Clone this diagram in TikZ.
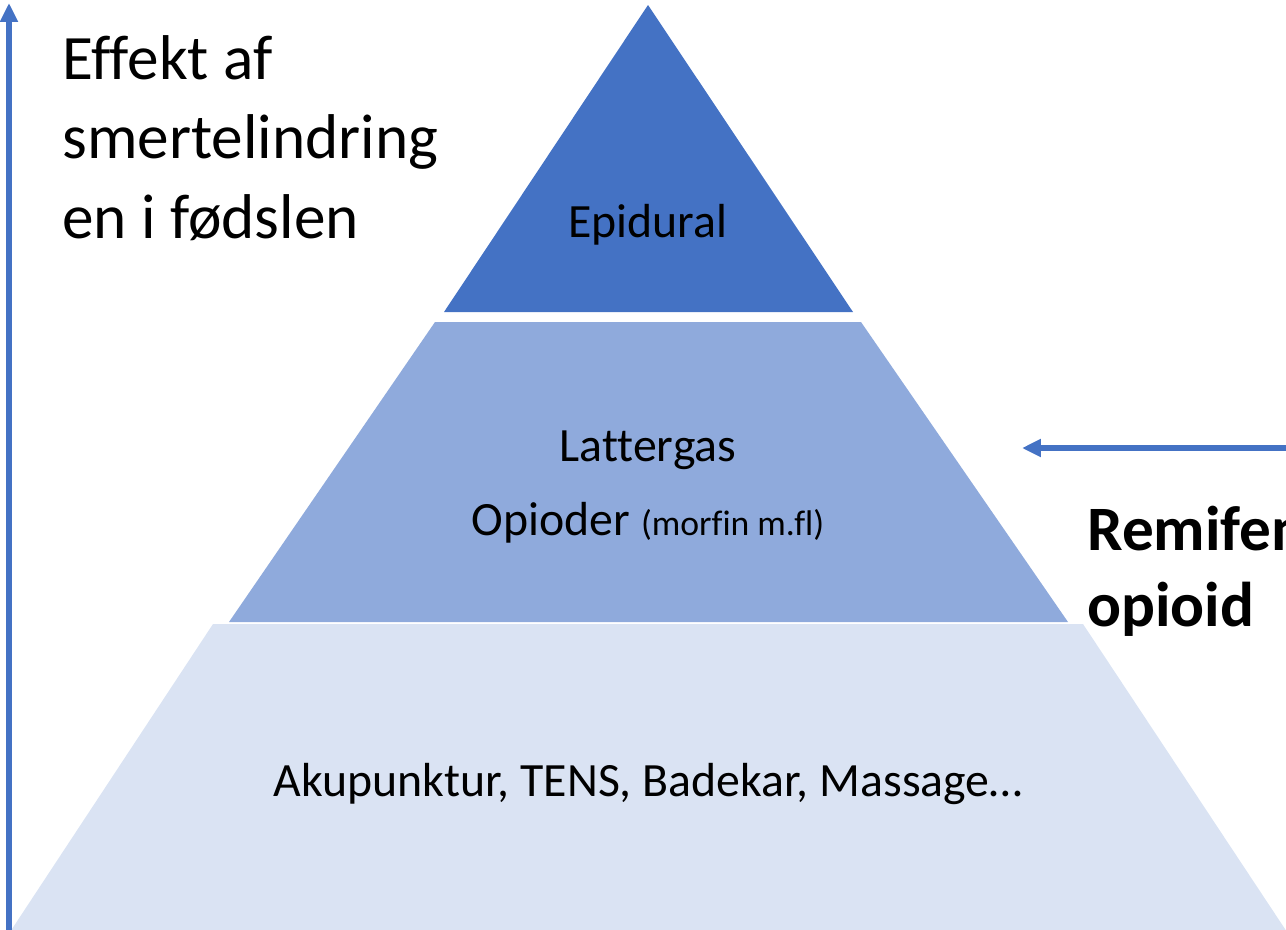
\documentclass[tikz,border=0pt]{standalone}
\usepackage{fontspec}
\setmainfont[Ligatures=NoCommon]{Carlito}
\usetikzlibrary{arrows.meta}

\definecolor{topblue}{HTML}{4472C4}
\definecolor{midblue}{HTML}{8FAADC}
\definecolor{lowblue}{HTML}{DAE3F3}

\tikzset{
  layertext/.style={anchor=base, inner sep=0pt, font=\fontsize{27.2}{32}\selectfont},
  bigtext/.style={anchor=base west, inner sep=0pt, align=left, font=\fontsize{36}{45}\selectfont},
  bluearrow/.style={draw=topblue, line width=2.9pt, -{Triangle[length=10.8pt,width=9.7pt]}}
}

\begin{document}
\begin{tikzpicture}[x=0.02cm, y=-0.02cm]
	  \useasboundingbox (0,0) rectangle (1286,930);

	  %----------------------------------------------------------------
	  % pyramid layers
	  \fill [topblue] (648,5) -- (853,312) -- (444,312) -- cycle;
	  \fill [midblue] (435,322) -- (861,322) -- (1068,622) -- (229,622) -- cycle;
	  \fill [lowblue] (213,624) -- (1083,624) -- (1287,932) -- (10,932) -- cycle;

	  \node [layertext] (epi) at (648,237) {Epidural};
	  \node [layertext] (latter) at (648,461) {Lattergas};
	  \node [layertext] (opi) at (648,535) {Opioder {\fontsize{20.3}{24}\selectfont (morfin m.fl)}};
	  \node [layertext] (aku) at (648,796) {Akupunktur, TENS, Badekar, Massage…};

	  %----------------------------------------------------------------
	  % axis and side note
	  \coordinate (axisfoot) at (9,935);
	  \coordinate (axistip) at (9,3);
	  \draw [bluearrow] (axisfoot) -- (axistip);

	  % base = last line
	  \node [bigtext] (effekt) at (62,238) {Effekt af\\smertelindring\\en i fødslen};

	  \coordinate (remifoot) at (1292,448);
	  \coordinate (remitip) at (1022,448);
	  \draw [bluearrow] (remifoot) -- (remitip);

	  \node [bigtext, font=\fontsize{36}{43}\selectfont\bfseries] (remi) at (1087,626) {Remifen\\opioid};

\end{tikzpicture}
\end{document}
